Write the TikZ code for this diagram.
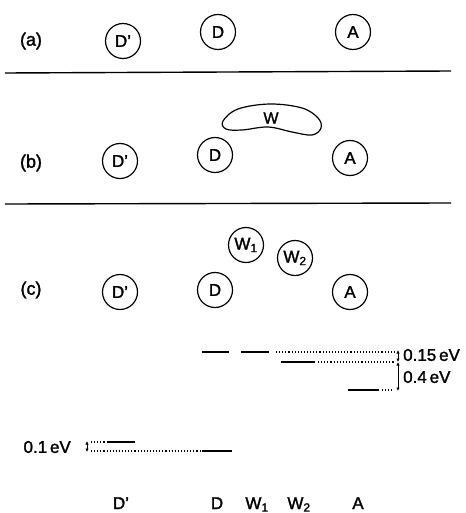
\documentclass[tikz,border=0pt]{standalone}
\usepackage{fontspec}
\setmainfont{Liberation Sans}[FakeBold=1.6]
\usetikzlibrary{arrows.meta}
\begin{document}
\begin{tikzpicture}[x=1pt,y=-1pt,
  site/.style={circle,draw,line width=1.2pt,minimum size=35pt,inner sep=0pt,font=\fontsize{17}{17}\selectfont},
  plabel/.style={font=\fontsize{18}{18}\selectfont},
  bottomlabel/.style={font=\fontsize{17}{17}\selectfont,anchor=base},
  evlabel/.style={font=\fontsize{17}{17}\selectfont,anchor=west,inner sep=0pt},
  divider/.style={line width=1.4pt},
  level/.style={line width=1.4pt},
  guide/.style={dash pattern=on 1.1pt off 2pt,line width=1.1pt},
  gap/.style={{Latex[length=3.5pt,width=3.5pt]}-{Latex[length=3.5pt,width=3.5pt]},line width=1pt}]
\useasboundingbox (0,0) rectangle (465,513);
% panel (a)
\node[plabel] (la) at (31,41) {(a)};
\node[site] (aDp) at (123,41) {D'};
\node[site] (aD) at (218,32) {D};
\node[site] (aA) at (353,32) {A};
\coordinate (d1l) at (5,73);
\coordinate (d1r) at (451,71);
\draw[divider] (d1l) -- (d1r);
% panel (b)
\node[plabel] (lb) at (31,163) {(b)};
\node[site] (bDp) at (120,161) {D'};
\node[site] (bD) at (215,155) {D};
\node[site] (bA) at (350,158) {A};
\draw[line width=1.2pt] plot[smooth cycle,tension=0.6] coordinates {(223,121) (238,109) (270,104) (302,108) (318,118) (321,128) (312,135) (292,132) (268,127) (242,130) (226,129)};
\node[font=\fontsize{16}{16}\selectfont] (bW) at (271,118) {W};
\coordinate (d2l) at (5,204);
\coordinate (d2r) at (451,203);
\draw[divider] (d2l) -- (d2r);
% panel (c)
\node[plabel] (lc) at (31,290) {(c)};
\node[site] (cDp) at (120,292) {D'};
\node[site] (cD) at (215,290) {D};
\node[site] (cW1) at (246,245) {W\textsubscript{1}};
\node[site] (cW2) at (295,258) {W\textsubscript{2}};
\node[site] (cA) at (350,292) {A};
% energy levels
\coordinate (LDa) at (202,352); \coordinate (LDb) at (229,352);
\coordinate (LW1a) at (241,352); \coordinate (LW1b) at (269,352);
\coordinate (LW2a) at (281,362); \coordinate (LW2b) at (315,362);
\coordinate (LAa) at (348,390); \coordinate (LAb) at (379,390);
\coordinate (R1) at (394,352); \coordinate (R2) at (394,362); \coordinate (R3) at (394,390);
\draw[level] (LDa) -- (LDb);
\draw[level] (LW1a) -- (LW1b);
\draw[level] (LW2a) -- (LW2b);
\draw[level] (LAa) -- (LAb);
\draw[guide] (LW1b) ++(7,0) -- (R1);
\draw[guide] (LW2b) ++(3,0) -- (R2);
\draw[guide] (LAb) ++(3,0) -- (R3);
\coordinate (G1) at (398,350); \coordinate (G2) at (398,362); \coordinate (G3) at (398,391);
\draw[gap] (G1) -- (G2);
\draw[gap] (G2) -- (G3);
\node[evlabel] (e015) at (403,355) {0.15\,eV};
\node[evlabel] (e04) at (403,377) {0.4\,eV};
% lower levels
\coordinate (LDpa) at (108,442); \coordinate (LDpb) at (135,442);
\coordinate (LD2a) at (202,451); \coordinate (LD2b) at (232,451);
\coordinate (Q1) at (91,442); \coordinate (Q2) at (91,451);
\draw[level] (LDpa) -- (LDpb);
\draw[level] (LD2a) -- (LD2b);
\draw[guide] (Q1) -- (LDpa);
\draw[guide] (Q2) -- (LD2a);
\coordinate (H1) at (87,441); \coordinate (H2) at (87,452);
\draw[gap] (H1) -- (H2);
\node[evlabel,anchor=east] (e01) at (71,447) {0.1\,eV};
% bottom labels
\node[bottomlabel] (bDp2) at (121,509) {D'};
\node[bottomlabel] (bD2) at (217,509) {D};
\node[bottomlabel] (bW12) at (257,509) {W\textsubscript{1}};
\node[bottomlabel] (bW22) at (299,509) {W\textsubscript{2}};
\node[bottomlabel] (bA2) at (358,509) {A};
\end{tikzpicture}
\end{document}
